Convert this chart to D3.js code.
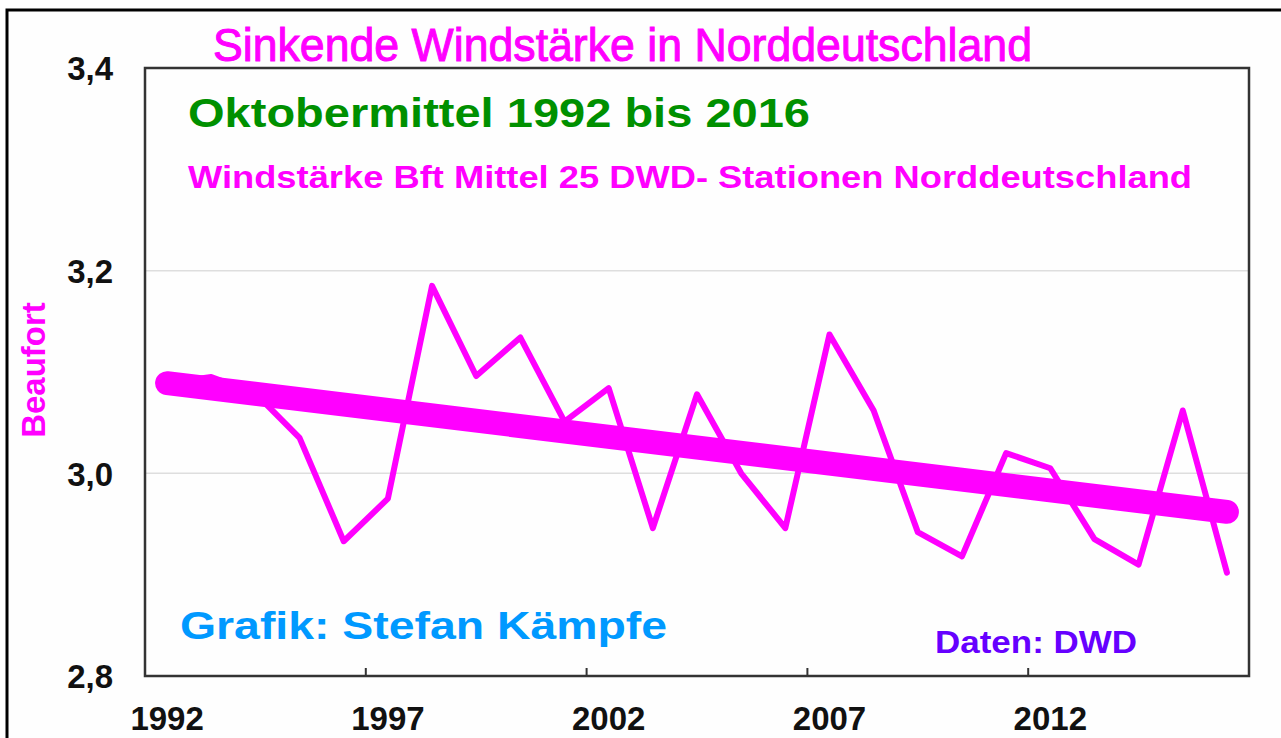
<!DOCTYPE html>
<html>
<head>
<meta charset="utf-8">
<script src="https://cdn.jsdelivr.net/npm/d3@7"></script>
<style>
  body { margin: 0; background: #fff; }
  text { font-family: "Liberation Sans", Arial, sans-serif; }
</style>
</head>
<body>
<svg id="chart" width="1281" height="738"></svg>
<script>
// data
var years = [1992, 1993, 1994, 1995, 1996, 1997, 1998, 1999, 2000, 2001, 2002, 2003,
             2004, 2005, 2006, 2007, 2008, 2009, 2010, 2011, 2012, 2013, 2014, 2015, 2016];
var bft = [3.089, 3.095, 3.079, 3.035, 2.933, 2.975, 3.185, 3.096, 3.134, 3.051, 3.084, 2.946,
           3.078, 3.000, 2.946, 3.137, 3.062, 2.942, 2.918, 3.020, 3.005, 2.935, 2.910, 3.062, 2.902];
var trendYears = [1992, 2016];
var trendVals = [3.089, 2.962];
var yTicks = [2.8, 3.0, 3.2, 3.4];
var gridVals = [3.0, 3.2];
var xLabelYears = [1992, 1997, 2002, 2007, 2012];
var xTickYears = [1997, 2002, 2007, 2012];

var pink = "#ff00ff";

var svg = d3.select("#chart");

// outer frame
svg.append("rect")
    .attr("x", 7).attr("y", 10)
    .attr("width", 1300).attr("height", 800)
    .attr("fill", "#fefefe")
    .attr("stroke", "#000").attr("stroke-width", 3);

var x = d3.scaleBand().domain(years).range([145, 1249]).padding(0);
var y = d3.scaleLinear().domain([2.8, 3.4]).range([676, 68]);
var cx = function(yr){ return x(yr) + x.bandwidth() / 2; };

var fmt = function(v){ return d3.format(".1f")(v).replace(".", ","); };

// grid
svg.append("g").selectAll("line")
    .data(gridVals)
    .enter()
    .append("line")
    .attr("x1", 145).attr("x2", 1249)
    .attr("y1", function(d){ return y(d); })
    .attr("y2", function(d){ return y(d); })
    .attr("stroke", "#dedede").attr("stroke-width", 1.5);

// plot frame
svg.append("rect")
    .attr("x", 145).attr("y", y(3.4))
    .attr("width", 1249 - 145).attr("height", y(2.8) - y(3.4))
    .attr("fill", "none")
    .attr("stroke", "#333").attr("stroke-width", 2.5);

// x ticks between categories, pointing inward
svg.append("g").selectAll("line")
    .data(xTickYears)
    .enter()
    .append("line")
    .attr("x1", function(d){ return x(d); })
    .attr("x2", function(d){ return x(d); })
    .attr("y1", y(2.8)).attr("y2", y(2.8) - 8)
    .attr("stroke", "#333").attr("stroke-width", 2);

// x labels
var xAxis = svg.append("g")
    .attr("transform", "translate(0," + y(2.8) + ")")
    .call(d3.axisBottom(x).tickValues(xLabelYears).tickSize(0).tickPadding(0));
xAxis.select(".domain").remove();
xAxis.selectAll("text")
    .attr("y", 54).attr("dy", 0)
    .attr("fill", "#111")
    .style("font-size", "33px").style("font-weight", "bold");

// y labels
var yAxis = svg.append("g")
    .attr("transform", "translate(113,0)")
    .call(d3.axisLeft(y).tickValues(yTicks).tickFormat(fmt).tickSize(0).tickPadding(0));
yAxis.select(".domain").remove();
yAxis.selectAll("text")
    .attr("dy", "0.36em")
    .attr("fill", "#111")
    .style("font-size", "33px").style("font-weight", "bold");

// data line
var line = d3.line()
    .x(function(d, i){ return cx(years[i]); })
    .y(function(d){ return y(d); });

svg.append("path")
    .datum(bft)
    .attr("d", line)
    .attr("fill", "none")
    .attr("stroke", pink).attr("stroke-width", 6)
    .attr("stroke-linejoin", "round").attr("stroke-linecap", "round");

// trend line
var trendLine = d3.line()
    .x(function(d, i){ return cx(trendYears[i]); })
    .y(function(d){ return y(d); });

svg.append("path")
    .datum(trendVals)
    .attr("d", trendLine)
    .attr("fill", "none")
    .attr("stroke", pink).attr("stroke-width", 24)
    .attr("stroke-linecap", "round");

// texts
function label(txt, xx, yy, size, weight, color, len) {
    var t = svg.append("text")
        .attr("x", xx).attr("y", yy)
        .attr("fill", color)
        .style("font-size", size + "px")
        .style("font-weight", weight)
        .text(txt);
    if (len) t.attr("textLength", len).attr("lengthAdjust", "spacingAndGlyphs");
    return t;
}

label("Sinkende Windstärke in Norddeutschland", 213, 61, 46, "normal", pink, 819)
    .attr("stroke", pink).attr("stroke-width", 1);
label("Oktobermittel 1992 bis 2016", 188, 127, 40, "bold", "#009000", 622);
label("Windstärke Bft Mittel 25 DWD- Stationen Norddeutschland", 188, 188, 31, "bold", pink, 1004);
label("Grafik: Stefan Kämpfe", 180, 639, 38, "bold", "#0099ff", 487);
label("Daten: DWD", 935, 653, 31, "bold", "#6600ff", 202);

svg.append("text")
    .attr("transform", "translate(45,370) rotate(-90)")
    .attr("text-anchor", "middle")
    .attr("fill", pink)
    .style("font-size", "33px")
    .style("font-weight", "bold")
    .text("Beaufort");
</script>
</body>
</html>
